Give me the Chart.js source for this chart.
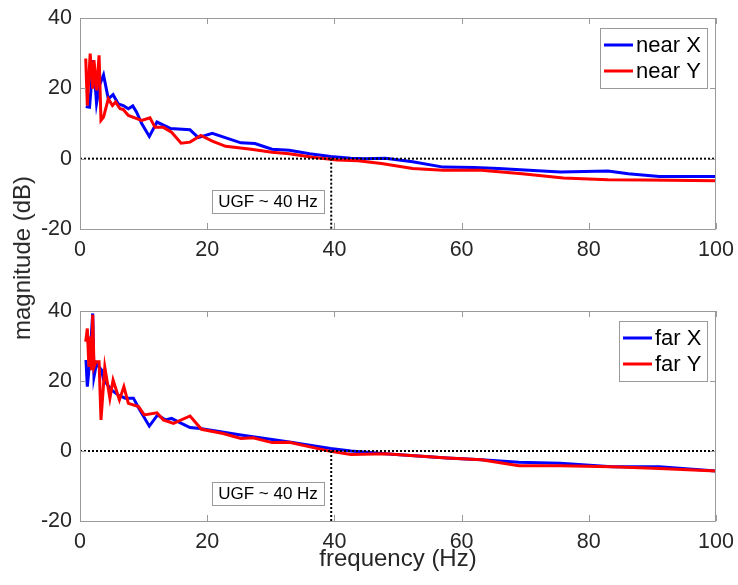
<!DOCTYPE html>
<html>
<head>
<meta charset="utf-8">
<script src="https://cdn.jsdelivr.net/npm/chart.js@4.4.0/dist/chart.umd.min.js"></script>
<style>
  body { margin: 0; background: #fff; }
  #wrap { position: relative; width: 738px; height: 585px; }
  #topChart { position: absolute; left: 0; top: 0; }
  #botChart { position: absolute; left: 0; top: 293px; }
  #ylab {
    position: absolute; left: 22px; top: 258px;
    transform: translate(-50%, -50%) rotate(-90deg);
    font: 24px "Liberation Sans", Arial, sans-serif; color: #262626; white-space: nowrap;
  }
</style>
</head>
<body>
<div id="wrap">
  <canvas id="topChart" width="738" height="293"></canvas>
  <canvas id="botChart" width="738" height="292"></canvas>
  <div id="ylab">magnitude (dB)</div>
</div>
<script>
// ---- data ----
const freqNearX = [0.9, 1.5, 2.1, 2.6, 3.1, 3.7, 4.45, 5.2, 6.0, 6.8, 7.6, 8.3, 8.9, 9.7, 10.9, 12.1, 14.2, 17.3, 18.6, 20.8, 25.3, 27.5, 30.2, 32.9, 36.1, 39.4, 42.6, 44.7, 48.0, 52.3, 57.1, 62.0, 65.8, 70.6, 75.5, 83.0, 86.2, 91.1, 100];
const magNearX  = [14.8, 14.6, 28, 15.7, 21, 23.8, 17, 18.2, 15.6, 15.1, 14.2, 15.0, 13.2, 10, 6.3, 10.4, 8.6, 8.2, 6.0, 7.2, 4.5, 4.3, 2.7, 2.4, 1.4, 0.6, 0.1, 0, 0.1, -0.9, -2.4, -2.5, -2.8, -3.3, -3.8, -3.5, -4.3, -5.1, -5.1];

const freqNearY = [0.9, 1.15, 1.6, 2.0, 2.2, 2.6, 3.0, 3.3, 3.7, 4.45, 5.1, 5.6, 6.3, 6.8, 7.6, 9.7, 11.0, 11.8, 13.1, 14.4, 15.9, 17.3, 19.0, 20.8, 22.9, 26.9, 30.2, 32.9, 36.6, 40.4, 43.7, 47.4, 52.3, 57.1, 63.1, 69.5, 76.0, 83.0, 88.9, 100];
const magNearY  = [28.5, 15.1, 29.9, 19.9, 28, 19.4, 29.4, 10.9, 11.8, 17, 15.1, 16.1, 14.2, 14, 12.3, 10.9, 11.6, 8.9, 8.9, 7.5, 4.4, 4.7, 6.6, 5.0, 3.5, 2.7, 1.8, 1.4, 0.4, -0.4, -0.6, -1.4, -2.8, -3.3, -3.3, -4.3, -5.5, -6.0, -6.1, -6.3];

const freqFarX = [0.94, 1.15, 1.5, 2.0, 2.2, 2.6, 3.4, 3.7, 5.0, 6.0, 7.1, 8.4, 9.4, 10.9, 12.2, 13.4, 14.4, 15.7, 17.3, 18.9, 25.3, 30.2, 32.9, 39.4, 42.6, 48.0, 57.7, 63.1, 69.0, 75.5, 83.6, 91.1, 100];
const magFarX  = [26, 18.4, 25, 39.3, 21.2, 25, 23.1, 20.3, 17.4, 16, 15.1, 15.1, 11.7, 7.1, 10.3, 8.9, 9.3, 8.1, 6.7, 6.4, 4.6, 3.3, 2.6, 0.7, 0, -0.8, -2.0, -2.5, -3.2, -3.5, -4.5, -4.5, -5.7];

const freqFarY = [0.9, 1.15, 1.4, 1.6, 1.8, 2.0, 2.2, 2.5, 3.0, 3.3, 3.9, 4.7, 5.2, 6.2, 6.9, 7.6, 9.2, 10.1, 12.1, 13.1, 14.7, 17.3, 19.1, 22.5, 25.3, 27.2, 30.2, 32.9, 39.4, 42.6, 48.0, 57.7, 63.1, 69.0, 75.5, 83.6, 91.1, 100];
const magFarY  = [31.2, 35, 24, 32.7, 23.1, 38.9, 24, 25.5, 25.5, 8.9, 24, 15.1, 20.3, 14.6, 18.4, 13.6, 12.7, 10.3, 10.9, 8.9, 7.9, 10, 6.2, 5.0, 3.6, 3.8, 2.4, 2.5, -0.1, -1.0, -0.8, -2.0, -2.5, -4.2, -4.2, -4.5, -5.0, -5.7];

const xTicks = [0, 20, 40, 60, 80, 100];
const yTicks = [-20, 0, 20, 40];
const ugfFreq = 39.5;
const ugfText = 'UGF ~ 40 Hz';

const FONT = '"Liberation Sans", Arial, Helvetica, sans-serif';
const FRAME = '#9a9a9a';

function pts(xs, ys) {
  return xs.map((x, i) => ({ x: x, y: ys[i] }));
}

// box, inward ticks, legend, UGF note -- matlab style
const matlabBits = {
  id: 'matlabBits',
  afterDraw(chart) {
    const ctx = chart.ctx, a = chart.chartArea;
    const xs = chart.scales.x, ys = chart.scales.y;
    ctx.save();

    // frame + inward ticks
    ctx.strokeStyle = FRAME;
    ctx.lineWidth = 1;
    ctx.strokeRect(a.left + 0.5, a.top + 0.5, a.width - 1, a.height);
    ctx.beginPath();
    xTicks.forEach(v => {
      const px = Math.round(xs.getPixelForValue(v)) + 0.5;
      ctx.moveTo(px, a.bottom); ctx.lineTo(px, a.bottom - 6);
      ctx.moveTo(px, a.top); ctx.lineTo(px, a.top + 6);
    });
    yTicks.forEach(v => {
      const py = Math.round(ys.getPixelForValue(v)) + 0.5;
      ctx.moveTo(a.left, py); ctx.lineTo(a.left + 6, py);
      ctx.moveTo(a.right, py); ctx.lineTo(a.right - 6, py);
    });
    ctx.stroke();

    // UGF note
    ctx.font = '17px ' + FONT;
    const nw = Math.round(ctx.measureText(ugfText).width + 12), nh = 23;
    const nx = Math.round(xs.getPixelForValue(ugfFreq)) - 7 - nw;
    const ny = Math.round(ys.getPixelForValue(0)) + 31;
    ctx.fillStyle = '#fff';
    ctx.fillRect(nx, ny, nw, nh);
    ctx.strokeStyle = FRAME;
    ctx.strokeRect(nx + 0.5, ny + 0.5, nw, nh);
    ctx.fillStyle = '#000';
    ctx.textBaseline = 'middle';
    ctx.textAlign = 'center';
    ctx.fillText(ugfText, nx + nw / 2, ny + nh / 2 + 1);

    // legend
    const items = chart.data.datasets.filter(d => d.inLegend);
    ctx.font = '22px ' + FONT;
    ctx.textAlign = 'left';
    const tw = Math.max(...items.map(d => ctx.measureText(d.label).width));
    const w = Math.round(4 + 29 + 3 + tw + 6), h = 60;
    const x0 = a.right - 9 - w, y0 = a.top + 10;
    ctx.fillStyle = '#fff';
    ctx.fillRect(x0, y0, w, h);
    ctx.strokeStyle = FRAME;
    ctx.lineWidth = 1;
    ctx.strokeRect(x0 + 0.5, y0 + 0.5, w, h);
    items.forEach((d, i) => {
      const cy = y0 + 17 + i * 26;
      ctx.strokeStyle = d.borderColor;
      ctx.lineWidth = 3;
      ctx.beginPath();
      ctx.moveTo(x0 + 4, cy); ctx.lineTo(x0 + 33, cy);
      ctx.stroke();
      ctx.fillStyle = '#000';
      ctx.fillText(d.label, x0 + 36, cy + 1);
    });
    ctx.restore();
  }
};

function makeChart(id, labA, xsA, ysA, labB, xsB, ysB, showTitle) {
  const ctx = document.getElementById(id).getContext('2d');
  return new Chart(ctx, {
    type: 'line',
    data: {
      datasets: [
        { label: 'zero', data: [{ x: xTicks[0], y: 0 }, { x: xTicks[xTicks.length - 1], y: 0 }],
          borderColor: '#000', borderWidth: 2, borderDash: [2, 2], pointRadius: 0, order: 1 },
        { label: 'ugf', data: [{ x: ugfFreq, y: 0 }, { x: ugfFreq, y: yTicks[0] }],
          borderColor: '#000', borderWidth: 2, borderDash: [2, 2], pointRadius: 0, order: 1 },
        { label: labA, data: pts(xsA, ysA), inLegend: true,
          borderColor: '#0000ff', borderWidth: 3, pointRadius: 0, tension: 0, order: 3 },
        { label: labB, data: pts(xsB, ysB), inLegend: true,
          borderColor: '#ff0000', borderWidth: 3, pointRadius: 0, tension: 0, order: 2 }
      ]
    },
    options: {
      responsive: false,
      animation: false,
      events: [],
      layout: { padding: { top: 18, right: 22, left: 0, bottom: 0 } },
      plugins: { legend: { display: false }, tooltip: { enabled: false } },
      scales: {
        x: {
          type: 'linear', min: 0, max: 100,
          afterBuildTicks: s => { s.ticks = xTicks.map(v => ({ value: v })); },
          afterFit: s => { s.height = 64; },
          // hidden tick marks only push the labels down; keeps label padding out of the side padding
          grid: { display: false, drawTicks: true, tickLength: 8 },
          border: { display: false },
          ticks: { padding: 0, maxRotation: 0, autoSkip: false, color: '#262626', font: { family: FONT, size: 21.5 } },
          title: { display: showTitle, text: 'frequency (Hz)', color: '#262626',
                   font: { family: FONT, size: 24 }, padding: { top: 0, bottom: 11 } }
        },
        y: {
          min: -20, max: 40,
          afterBuildTicks: s => { s.ticks = yTicks.map(v => ({ value: v })); },
          afterFit: s => { s.width = 80; },
          grid: { display: false, drawTicks: true, tickLength: 8 },
          border: { display: false },
          ticks: { padding: 0, color: '#262626', font: { family: FONT, size: 21.5 } }
        }
      }
    },
    plugins: [matlabBits]
  });
}

makeChart('topChart', 'near X', freqNearX, magNearX, 'near Y', freqNearY, magNearY, false);
makeChart('botChart', 'far X', freqFarX, magFarX, 'far Y', freqFarY, magFarY, true);
</script>
</body>
</html>
